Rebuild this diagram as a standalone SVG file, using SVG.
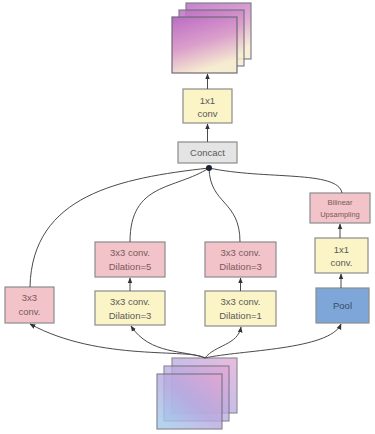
<svg xmlns="http://www.w3.org/2000/svg" width="375" height="434" viewBox="0 0 375 434">
<style>
.box{stroke:#8c8c8c;stroke-width:1.2}
.pink{fill:#f2c3c8}
.yellow{fill:#fbf4c6}
.blue{fill:#7ea6d9}
.gray{fill:#e4e4e4}
.t{font-family:"Liberation Sans",Arial,sans-serif;font-size:9.5px;fill:#5a5a5a;text-anchor:middle}
.tp{fill:#7a5a5e}
.c{fill:none;stroke:#4a4a4a;stroke-width:1}
.sq{stroke:#6e6a78;stroke-width:1.2}
</style>
<defs>
<linearGradient id="gTop" x1="0" y1="0" x2="0.35" y2="1">
<stop offset="0" stop-color="#bb6cc4"/>
<stop offset="0.55" stop-color="#db9fcb"/>
<stop offset="1" stop-color="#f6edd0"/>
</linearGradient>
<linearGradient id="gBot" x1="0" y1="1" x2="1" y2="0">
<stop offset="0" stop-color="#9fcfee"/>
<stop offset="0.5" stop-color="#b7a9e0"/>
<stop offset="1" stop-color="#e3a6d2"/>
</linearGradient>
<marker id="ah" viewBox="0 0 10 10" refX="9" refY="5" markerWidth="6" markerHeight="6" orient="auto">
<path d="M0,1 L10,5 L0,9 z" fill="#333"/>
</marker>
</defs>

<g id="top-stack">
<rect class="sq" x="186" y="3" width="65" height="56" fill="url(#gTop)" opacity="0.85"/>
<rect class="sq" x="179" y="10" width="65" height="56" fill="url(#gTop)" opacity="0.85"/>
<rect class="sq" x="172" y="17" width="65" height="56" fill="url(#gTop)"/>
</g>

<g id="bottom-stack">
<rect class="sq" x="172" y="358" width="65" height="55" fill="url(#gBot)" opacity="0.75"/>
<rect class="sq" x="164" y="366" width="65" height="55" fill="url(#gBot)" opacity="0.75"/>
<rect class="sq" x="157" y="374" width="65" height="55" fill="url(#gBot)" opacity="0.8"/>
</g>

<g id="conv1x1-top">
<rect class="box yellow" x="183" y="89" width="49" height="34"/>
<text class="t" x="207.5" y="104">1x1</text>
<text class="t" x="207.5" y="117">conv</text>
</g>

<g id="concat">
<rect class="box gray" x="178" y="142" width="59" height="21"/>
<text class="t" x="207.5" y="156">Concact</text>
</g>

<g id="conv3x3-left">
<rect class="box pink" x="5" y="287" width="49" height="36"/>
<text class="t tp" x="29.5" y="301">3x3</text>
<text class="t tp" x="29.5" y="315">conv.</text>
</g>

<g id="dil5">
<rect class="box pink" x="95" y="242" width="70" height="35"/>
<text class="t tp" x="130" y="256">3x3 conv.</text>
<text class="t tp" x="130" y="270">Dilation=5</text>
</g>

<g id="dil3-yellow">
<rect class="box yellow" x="95" y="291" width="70" height="34"/>
<text class="t" x="130" y="305">3x3 conv.</text>
<text class="t" x="130" y="319">Dilation=3</text>
</g>

<g id="dil3-pink">
<rect class="box pink" x="205" y="242" width="71" height="35"/>
<text class="t tp" x="240.5" y="256">3x3 conv.</text>
<text class="t tp" x="240.5" y="270">Dilation=3</text>
</g>

<g id="dil1">
<rect class="box yellow" x="205" y="291" width="71" height="35"/>
<text class="t" x="240.5" y="305">3x3 conv.</text>
<text class="t" x="240.5" y="319">Dilation=1</text>
</g>

<g id="bilinear">
<rect class="box pink" x="310" y="193" width="60" height="30"/>
<text class="t tp" x="340" y="205" style="font-size:7.5px">Bilinear</text>
<text class="t tp" x="340" y="216.5" style="font-size:7.5px">Upsampling</text>
</g>

<g id="conv1x1-right">
<rect class="box yellow" x="315" y="238" width="53" height="35"/>
<text class="t" x="341.5" y="253">1x1</text>
<text class="t" x="341.5" y="266">conv.</text>
</g>

<g id="pool">
<rect class="box blue" x="316" y="288" width="53" height="35"/>
<text class="t" x="342.5" y="309" style="fill:#3a4a66">Pool</text>
</g>

<g id="connectors">
<path class="c" d="M207.5,142 V124" marker-end="url(#ah)"/>
<path class="c" d="M207.5,89 V74" marker-end="url(#ah)"/>
<path class="c" d="M130,291 V278" marker-end="url(#ah)"/>
<path class="c" d="M240.5,291 V278" marker-end="url(#ah)"/>
<path class="c" d="M341,288 V274" marker-end="url(#ah)"/>
<path class="c" d="M340,238 V224" marker-end="url(#ah)"/>
<path class="c" d="M209,168 C120,178 32,195 30,287"/>
<path class="c" d="M209,168 C175,190 130,182 130,242"/>
<path class="c" d="M209,168 C210,205 240,200 240,242"/>
<path class="c" d="M209,168 C265,180 338,170 342,193"/>
<circle cx="209" cy="168" r="3" fill="#1c2430"/>
<path class="c" d="M205,358 C190,348 100,362 30,324" marker-end="url(#ah)"/>
<path class="c" d="M205,358 C185,350 150,355 131,326" marker-end="url(#ah)"/>
<path class="c" d="M205,358 C215,345 238,345 241,327" marker-end="url(#ah)"/>
<path class="c" d="M205,358 C240,350 330,350 341,324" marker-end="url(#ah)"/>
</g>
</svg>
